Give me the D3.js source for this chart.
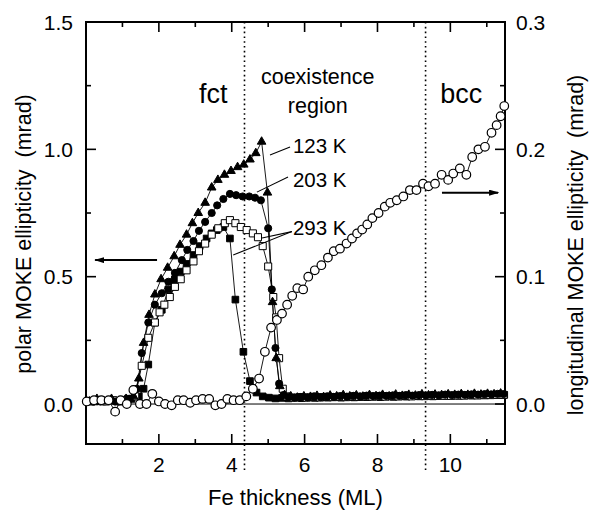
<!DOCTYPE html>
<html>
<head>
<meta charset="utf-8">
<script src="https://cdn.jsdelivr.net/npm/d3@7"></script>
<style>
  body { margin: 0; background: #fff; }
  svg text { font-family: "Liberation Sans", Arial, Helvetica, sans-serif; fill: #000; }
</style>
</head>
<body>
<svg id="chart"></svg>
<script>
// polar MOKE ellipticity (mrad), [thickness ML, value]
const tri123 = [
  [0.1,0.01],[0.3,0.02],[0.5,0.01],[0.7,0.02],[0.9,0.01],[1.1,0.02],[1.3,0.03],[1.45,0.1],
  [1.58,0.24],[1.73,0.35],[1.89,0.43],[2.06,0.49],[2.24,0.535],[2.42,0.58],[2.58,0.625],
  [2.76,0.665],[2.92,0.71],[3.08,0.75],[3.27,0.79],[3.45,0.85],[3.62,0.88],[3.8,0.9],
  [3.98,0.915],[4.16,0.93],[4.33,0.94],[4.5,0.96],[4.66,0.985],[4.82,1.03],[4.98,0.83],
  [5.12,0.4],[5.22,0.18],[5.32,0.07],[5.45,0.035],[5.62,0.03],[5.8,0.025],[5.98,0.03],
  [6.16,0.028],[6.34,0.032],[6.52,0.027],[6.7,0.033],[6.88,0.03],[7.06,0.035],[7.24,0.03],
  [7.42,0.034],[7.6,0.029],[7.78,0.035],[7.96,0.031],[8.14,0.036],[8.32,0.03],[8.5,0.037],
  [8.68,0.032],[8.86,0.036],[9.04,0.033],[9.22,0.038],[9.4,0.034],[9.58,0.037],[9.76,0.035],
  [9.94,0.038],[10.12,0.036],[10.3,0.039],[10.48,0.036],[10.66,0.04],[10.84,0.037],
  [11.02,0.04],[11.2,0.038],[11.38,0.041]
];
const circ203 = [
  [0.2,0.01],[0.4,0.01],[0.6,0.015],[0.8,0.01],[1.0,0.015],[1.2,0.02],[1.4,0.06],[1.53,0.2],
  [1.71,0.32],[1.89,0.39],[2.08,0.435],[2.26,0.48],[2.44,0.515],[2.63,0.565],[2.78,0.605],
  [2.95,0.64],[3.1,0.68],[3.27,0.715],[3.45,0.75],[3.6,0.78],[3.77,0.805],[3.95,0.825],
  [4.12,0.82],[4.3,0.815],[4.48,0.815],[4.64,0.81],[4.8,0.8],[5.0,0.69],[5.1,0.45],
  [5.2,0.22],[5.3,0.08],[5.42,0.035],[5.56,0.028],[5.72,0.025],[5.9,0.028],[6.08,0.026],
  [6.26,0.03],[6.44,0.027],[6.62,0.03],[6.8,0.028],[6.98,0.031],[7.16,0.029],[7.34,0.032],
  [7.52,0.03],[7.7,0.033],[7.88,0.031],[8.06,0.033],[8.24,0.032],[8.42,0.034],[8.6,0.032],
  [8.78,0.035],[8.96,0.033],[9.14,0.035],[9.32,0.034],[9.5,0.036],[9.68,0.034],[9.86,0.037],
  [10.04,0.035],[10.22,0.037],[10.4,0.036],[10.58,0.038],[10.76,0.037],[10.94,0.039],
  [11.12,0.038],[11.3,0.04],[11.46,0.039]
];
const sqOpen293 = [
  [0.15,0.01],[0.35,0.015],[0.55,0.01],[0.75,0.015],[0.95,0.01],[1.15,0.02],[1.35,0.03],
  [1.53,0.15],[1.71,0.26],[1.89,0.32],[2.02,0.36],[2.15,0.39],[2.3,0.42],[2.44,0.46],
  [2.6,0.49],[2.76,0.525],[2.95,0.56],[3.1,0.6],[3.27,0.63],[3.45,0.665],[3.63,0.69],
  [3.81,0.71],[3.95,0.722],[4.1,0.71],[4.25,0.695],[4.41,0.683],[4.58,0.67],[4.72,0.655],
  [4.85,0.62],[5.0,0.54],[5.14,0.42],[5.22,0.34],[5.3,0.18],[5.4,0.06],[5.52,0.03],
  [5.7,0.025],[5.88,0.027],[6.06,0.025],[6.24,0.028],[6.42,0.026],[6.6,0.028],[6.78,0.027],
  [6.96,0.029],[7.14,0.027],[7.32,0.03],[7.5,0.028],[7.68,0.03],[7.86,0.029],[8.04,0.031],
  [8.22,0.029],[8.4,0.031],[8.58,0.03],[8.76,0.032],[8.94,0.03],[9.12,0.032],[9.3,0.031],
  [9.48,0.033],[9.66,0.032],[9.84,0.033],[10.02,0.032],[10.2,0.034],[10.38,0.033],
  [10.56,0.035],[10.74,0.034],[10.92,0.035],[11.1,0.035],[11.28,0.036],[11.46,0.036]
];
const sqFill293 = [
  [0.25,0.01],[0.45,0.01],[0.65,0.015],[0.85,0.01],[1.05,0.015],[1.25,0.02],[1.45,0.03],
  [1.58,0.06],[1.71,0.155],[1.89,0.32],[2.08,0.37],[2.26,0.45],[2.44,0.49],[2.6,0.52],
  [2.76,0.55],[2.95,0.585],[3.12,0.62],[3.31,0.65],[3.45,0.67],[3.59,0.683],[3.77,0.695],
  [3.95,0.65],[4.1,0.41],[4.32,0.205],[4.5,0.09],[4.68,0.045],[4.85,0.03],[5.02,0.025],
  [5.2,0.022],[5.38,0.024],[5.56,0.022],[5.74,0.025],[5.92,0.023],[6.1,0.026],[6.28,0.024],
  [6.46,0.026],[6.64,0.025],[6.82,0.027],[7.0,0.025],[7.18,0.028],[7.36,0.026],[7.54,0.028],
  [7.72,0.027],[7.9,0.029],[8.08,0.027],[8.26,0.03],[8.44,0.028],[8.62,0.03],[8.8,0.029],
  [8.98,0.031],[9.16,0.03],[9.34,0.032],[9.52,0.03],[9.7,0.032],[9.88,0.031],[10.06,0.033],
  [10.24,0.032],[10.42,0.034],[10.6,0.033],[10.78,0.034],[10.96,0.034],[11.14,0.035],
  [11.32,0.035],[11.48,0.036]
];
// longitudinal MOKE ellipticity (mrad), right axis
const circLong = [
  [0.02,0.002],[0.22,0.003],[0.42,0.003],[0.62,0.003],[0.8,-0.006],[0.95,0.003],[1.12,0.0],
  [1.3,0.011],[1.48,0.0],[1.66,0.0],[1.82,0.008],[2.0,0.002],[2.17,0.0],[2.35,-0.001],
  [2.52,0.003],[2.68,0.003],[2.86,0.001],[3.02,0.003],[3.2,0.004],[3.38,0.004],[3.55,-0.001],
  [3.72,0.0],[3.88,0.004],[4.05,0.003],[4.22,0.003],[4.4,0.006],[4.58,0.012],[4.75,0.02],
  [4.91,0.041],[5.08,0.06],[5.24,0.066],[5.38,0.071],[5.52,0.078],[5.66,0.085],[5.8,0.091],
  [5.96,0.09],[6.1,0.1],[6.28,0.105],[6.46,0.109],[6.64,0.115],[6.8,0.12],[6.97,0.122],
  [7.15,0.126],[7.3,0.13],[7.44,0.134],[7.58,0.137],[7.72,0.141],[7.86,0.146],[8.03,0.15],
  [8.2,0.155],[8.35,0.158],[8.53,0.16],[8.71,0.163],[8.89,0.168],[9.07,0.168],[9.25,0.173],
  [9.4,0.171],[9.58,0.173],[9.76,0.18],[9.94,0.176],[10.08,0.181],[10.26,0.185],[10.44,0.18],
  [10.6,0.194],[10.77,0.2],[10.95,0.202],[11.13,0.213],[11.27,0.219],[11.38,0.226],[11.48,0.234]
];

const xTicks = [2, 4, 6, 8, 10];
const xMinor = [1, 3, 5, 7, 9, 11];
const yLTicks = [0.0, 0.5, 1.0, 1.5];
const yLMinor = [0.25, 0.75, 1.25];
const yRTicks = [0.0, 0.1, 0.2, 0.3];
const yRMinor = [0.05, 0.15, 0.25];
const phaseBounds = [4.35, 9.32];

const W = 589, H = 510;
const pl = 86, pr = 505, pt = 22, pb = 444;

const svg = d3.select('#chart').attr('width', W).attr('height', H);

const x = d3.scaleLinear().domain([0, 11.5]).range([pl, pr]);
const yL = d3.scaleLinear().domain([-0.157, 1.5]).range([pb, pt]);
const yR = d3.scaleLinear().domain([-0.0314, 0.3]).range([pb, pt]);

// zero line
svg.append('line').attr('x1', pl).attr('x2', pr).attr('y1', yL(0)).attr('y2', yL(0))
  .attr('stroke', '#000').attr('stroke-width', 1);

// phase boundaries
phaseBounds.forEach((b) =>
  svg.append('line').attr('x1', x(b)).attr('x2', x(b)).attr('y1', pt).attr('y2', pb + 26)
    .attr('stroke', '#000').attr('stroke-width', 1.6).attr('stroke-dasharray', '1.6,3.2'));

// frame + ticks
svg.append('rect').attr('x', pl).attr('y', pt).attr('width', pr - pl).attr('height', pb - pt)
  .attr('fill', 'none').attr('stroke', '#000').attr('stroke-width', 2);

const tk = (x1, y1, x2, y2) => svg.append('line').attr('x1', x1).attr('y1', y1)
  .attr('x2', x2).attr('y2', y2).attr('stroke', '#000').attr('stroke-width', 1.6);

xTicks.forEach((t) => { tk(x(t), pb, x(t), pb - 10); tk(x(t), pt, x(t), pt + 10); });
xMinor.forEach((t) => { tk(x(t), pb, x(t), pb - 5); tk(x(t), pt, x(t), pt + 5); });
yLTicks.forEach((t) => tk(pl, yL(t), pl + 10, yL(t)));
yLMinor.forEach((t) => tk(pl, yL(t), pl + 5, yL(t)));
yRTicks.forEach((t) => tk(pr, yR(t), pr - 10, yR(t)));
yRMinor.forEach((t) => tk(pr, yR(t), pr - 5, yR(t)));

const fs = 21;
svg.selectAll('.xl').data(xTicks).enter().append('text')
  .attr('x', (d) => x(d)).attr('y', pb + 28).attr('text-anchor', 'middle')
  .attr('font-size', fs).text((d) => d);
svg.selectAll('.yl').data(yLTicks).enter().append('text')
  .attr('x', pl - 13).attr('y', (d) => yL(d)).attr('dy', '0.36em').attr('text-anchor', 'end')
  .attr('font-size', fs).text((d) => d.toFixed(1));
svg.selectAll('.yr').data(yRTicks).enter().append('text')
  .attr('x', pr + 11).attr('y', (d) => yR(d)).attr('dy', '0.36em').attr('text-anchor', 'start')
  .attr('font-size', fs).text((d) => d.toFixed(1));

svg.append('text').attr('x', (pl + pr) / 2).attr('y', 505).attr('text-anchor', 'middle')
  .attr('font-size', 22).text('Fe thickness (ML)');
svg.append('text').attr('transform', 'translate(31,234) rotate(-90)').attr('text-anchor', 'middle')
  .attr('font-size', 21.5).attr('xml:space', 'preserve').text('polar MOKE ellipticity  (mrad)');
svg.append('text').attr('transform', 'translate(583,245) rotate(-90)').attr('text-anchor', 'middle')
  .attr('font-size', 21.5).attr('xml:space', 'preserve').text('longitudinal MOKE ellipticity  (mrad)');

// series
const line = (ys) => d3.line().x((d) => x(d[0])).y((d) => ys(d[1]));
const drawLine = (data, ys) => svg.append('path').datum(data).attr('d', line(ys))
  .attr('fill', 'none').attr('stroke', '#000').attr('stroke-width', 0.9);

drawLine(sqFill293, yL);
drawLine(sqOpen293, yL);
drawLine(circ203, yL);
drawLine(tri123, yL);

const sym = (data, type, size, fill) => svg.append('g').selectAll('path').data(data).enter()
  .append('path').attr('d', d3.symbol().type(type).size(size))
  .attr('transform', (d) => `translate(${x(d[0])},${yL(d[1])})`)
  .attr('fill', fill).attr('stroke', '#000').attr('stroke-width', 1);

sym(sqFill293, d3.symbolSquare, 44, '#000');
sym(sqOpen293, d3.symbolSquare, 50, '#fff');
sym(circ203, d3.symbolCircle, 40, '#000');
sym(tri123, d3.symbolTriangle, 32, '#000');

drawLine(circLong, yR);
svg.append('g').selectAll('circle').data(circLong).enter().append('circle')
  .attr('cx', (d) => x(d[0])).attr('cy', (d) => yR(d[1])).attr('r', 4.3)
  .attr('fill', '#fff').attr('stroke', '#000').attr('stroke-width', 1.2);

// annotations
svg.append('defs').append('marker').attr('id', 'ah').attr('viewBox', '0 0 10 6')
  .attr('refX', 9).attr('refY', 3).attr('markerWidth', 10).attr('markerHeight', 6)
  .attr('markerUnits', 'userSpaceOnUse').attr('orient', 'auto')
  .append('path').attr('d', 'M0,0L10,3L0,6Z').attr('fill', '#000');

svg.append('line').attr('x1', x(1.95)).attr('x2', x(0.25)).attr('y1', yL(0.565)).attr('y2', yL(0.565))
  .attr('stroke', '#000').attr('stroke-width', 2).attr('marker-end', 'url(#ah)');
svg.append('line').attr('x1', x(9.77)).attr('x2', x(11.31)).attr('y1', yR(0.166)).attr('y2', yR(0.166))
  .attr('stroke', '#000').attr('stroke-width', 2).attr('marker-end', 'url(#ah)');

const leaders = [
  [[5.6, 1.009], [5.05, 0.978]],
  [[5.545, 0.891], [4.69, 0.832]],
  [[5.65, 0.677], [4.04, 0.585]],
  [[5.65, 0.677], [4.83, 0.652]]
];
leaders.forEach(([a, b]) => svg.append('line').attr('x1', x(a[0])).attr('y1', yL(a[1]))
  .attr('x2', x(b[0])).attr('y2', yL(b[1])).attr('stroke', '#000').attr('stroke-width', 1.1));

const labels = [
  { t: '123 K', x: 5.68, y: 0.985 },
  { t: '203 K', x: 5.68, y: 0.852 },
  { t: '293 K', x: 5.68, y: 0.664 }
];
labels.forEach((l) => svg.append('text').attr('x', x(l.x)).attr('y', yL(l.y))
  .attr('font-size', 20.5).text(l.t));

svg.append('text').attr('x', x(3.49)).attr('y', yL(1.18)).attr('text-anchor', 'middle')
  .attr('font-size', 27).text('fct');
svg.append('text').attr('x', x(10.3)).attr('y', yL(1.18)).attr('text-anchor', 'middle')
  .attr('font-size', 27).text('bcc');
svg.append('text').attr('x', x(6.36)).attr('y', yL(1.257)).attr('text-anchor', 'middle')
  .attr('font-size', 21.5).text('coexistence');
svg.append('text').attr('x', x(6.36)).attr('y', yL(1.143)).attr('text-anchor', 'middle')
  .attr('font-size', 21.5).text('region');
</script>
</body>
</html>
